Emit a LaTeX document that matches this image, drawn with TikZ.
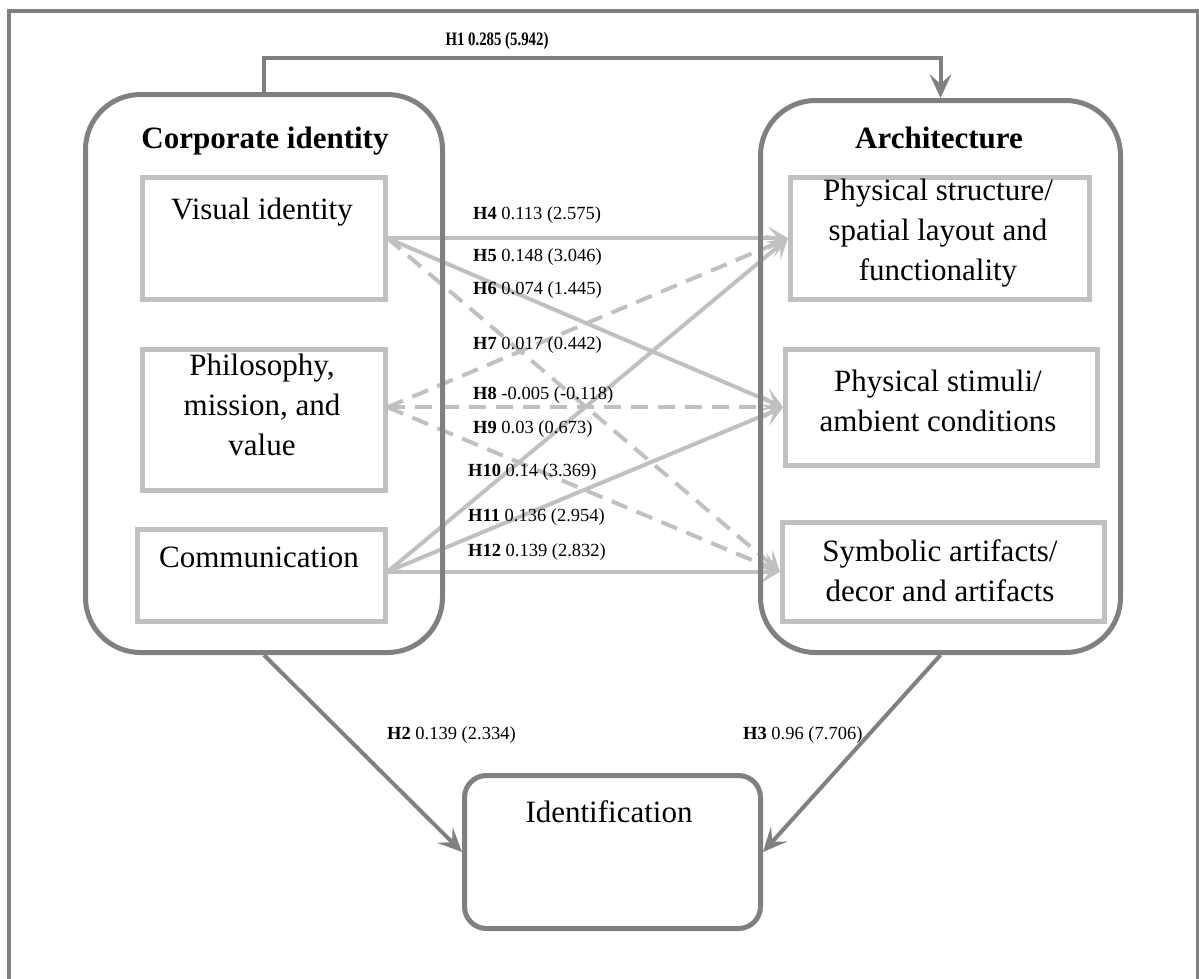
\documentclass[tikz,border=0pt]{standalone}
\usepackage{fontspec}
\usepackage{graphicx}
\setmainfont{Liberation Serif}
\usetikzlibrary{arrows.meta,backgrounds,calc}
\definecolor{dk}{HTML}{808080}
\definecolor{lt}{HTML}{C0C0C0}
\begin{document}
\begin{tikzpicture}[x=1pt,y=-1pt,
  bigbox/.style={draw=dk, line width=5pt, rounded corners=55pt, inner sep=0pt, anchor=north west},
  inbox/.style={draw=lt, line width=4.5pt, inner sep=0pt, anchor=north west},
  idbox/.style={draw=dk, line width=5pt, rounded corners=22pt, inner sep=0pt, anchor=north west},
  titlet/.style={font=\bfseries\fontsize{31}{39}\selectfont, inner sep=0pt},
  boxt/.style={font=\fontsize{31}{40}\selectfont, inner sep=0pt, align=center},
  lab/.style={font=\fontsize{18.5}{22}\selectfont, inner sep=0pt, anchor=west},
  la/.style={draw=lt, line width=4pt, -{Stealth[length=20pt,width=24pt,inset=10pt]}},
  dsh/.style={dash pattern=on 17pt off 10pt},
  da/.style={draw=dk, line width=4pt, -{Stealth[length=24pt,width=22pt,inset=10pt]}},
  frame/.style={draw=dk, line width=4pt}
]
\useasboundingbox (0,0) rectangle (1199,978);
\clip (0,0) rectangle (1199,978);

% outer frame (open at the bottom edge)
\draw[frame] (8.5,10.5) rectangle (1197.5,1010);

% group containers
\node[bigbox, minimum width=357pt, minimum height=558pt] (ci) at (83,92) {};
\node[bigbox, minimum width=360pt, minimum height=552pt] (ar) at (758,98) {};
\node[titlet, anchor=base] (ci-t) at (265,148) {Corporate identity};
\node[titlet, anchor=base] (ar-t) at (939,148) {Architecture};

% corporate identity dimensions
\node[inbox, minimum width=243pt, minimum height=122pt] (vi) at (140,175) {};
\node[inbox, minimum width=243pt, minimum height=141pt] (ph) at (140,347) {};
\node[inbox, minimum width=248pt, minimum height=92pt] (cm) at (135,527) {};
\node[boxt, anchor=base] (vi-t) at (262,219) {Visual identity};
\node[boxt, anchor=north] (ph-t) at (262,354) {Philosophy,\\mission, and\\value};
\node[boxt, anchor=base] (cm-t) at (259,567) {Communication};

% architecture dimensions
\node[inbox, minimum width=299pt, minimum height=122pt] (ps) at (788,175) {};
\node[inbox, minimum width=312pt, minimum height=116pt] (st) at (783,347) {};
\node[inbox, minimum width=322pt, minimum height=99pt] (sy) at (780,520) {};
\node[boxt, anchor=north] (ps-t) at (938,179) {Physical structure/\\spatial layout and\\functionality};
\node[boxt, anchor=north] (st-t) at (938,370) {Physical stimuli/\\ambient conditions};
\node[boxt, anchor=north] (sy-t) at (940,539) {Symbolic artifacts/\\decor and artifacts};

% outcome
\node[idbox, minimum width=296pt, minimum height=153pt] (id) at (462,773) {};
\node[boxt, anchor=base] (id-t) at (609,822) {Identification};

% dimension-level paths
\begin{pgfonlayer}{background}
\coordinate (ph-o) at (ph.east |- st.west);
\coordinate (cm-o) at (cm.east |- sy.west);
\draw[la] (vi.east) -- (ps.west);
\draw[la] (vi.east) -- (st.west);
\draw[la,dsh] (vi.east) -- (sy.west);
\draw[la,dsh] (ph-o) -- (ps.west);
\draw[la,dsh] (ph-o) -- (st.west);
\draw[la,dsh] (ph-o) -- (sy.west);
\draw[la] (cm-o) -- (ps.west);
\draw[la] (cm-o) -- (st.west);
\draw[la] (cm-o) -- (sy.west);
\end{pgfonlayer}

% construct-level paths
\coordinate (h1y) at (600,58);
\draw[da] (ci.north) -- (ci.north |- h1y) -- (ar.north |- h1y) -- (ar.north);
\draw[da] (ci.south) -- (id.west);
\draw[da] (ar.south) -- (id.east);

% path coefficients
\node[font=\bfseries\fontsize{19}{22}\selectfont, inner sep=0pt] (l1) at (497,41) {\scalebox{0.78}[1]{H1 0.285 (5.942)}};
\node[lab] (l2) at (387,735) {\textbf{H2} 0.139 (2.334)};
\node[lab] (l3) at (743,735) {\textbf{H3} 0.96 (7.706)};
\node[lab] (l4) at (473,215) {\textbf{H4} 0.113 (2.575)};
\node[lab] (l5) at (473,257) {\textbf{H5} 0.148 (3.046)};
\node[lab] (l6) at (473,290) {\textbf{H6} 0.074 (1.445)};
\node[lab] (l7) at (473,345) {\textbf{H7} 0.017 (0.442)};
\node[lab] (l8) at (473,395) {\textbf{H8} -0.005 (-0.118)};
\node[lab] (l9) at (473,429) {\textbf{H9} 0.03 (0.673)};
\node[lab] (l10) at (468,472) {\textbf{H10} 0.14 (3.369)};
\node[lab] (l11) at (468,517) {\textbf{H11} 0.136 (2.954)};
\node[lab] (l12) at (468,552) {\textbf{H12} 0.139 (2.832)};
\end{tikzpicture}
\end{document}
